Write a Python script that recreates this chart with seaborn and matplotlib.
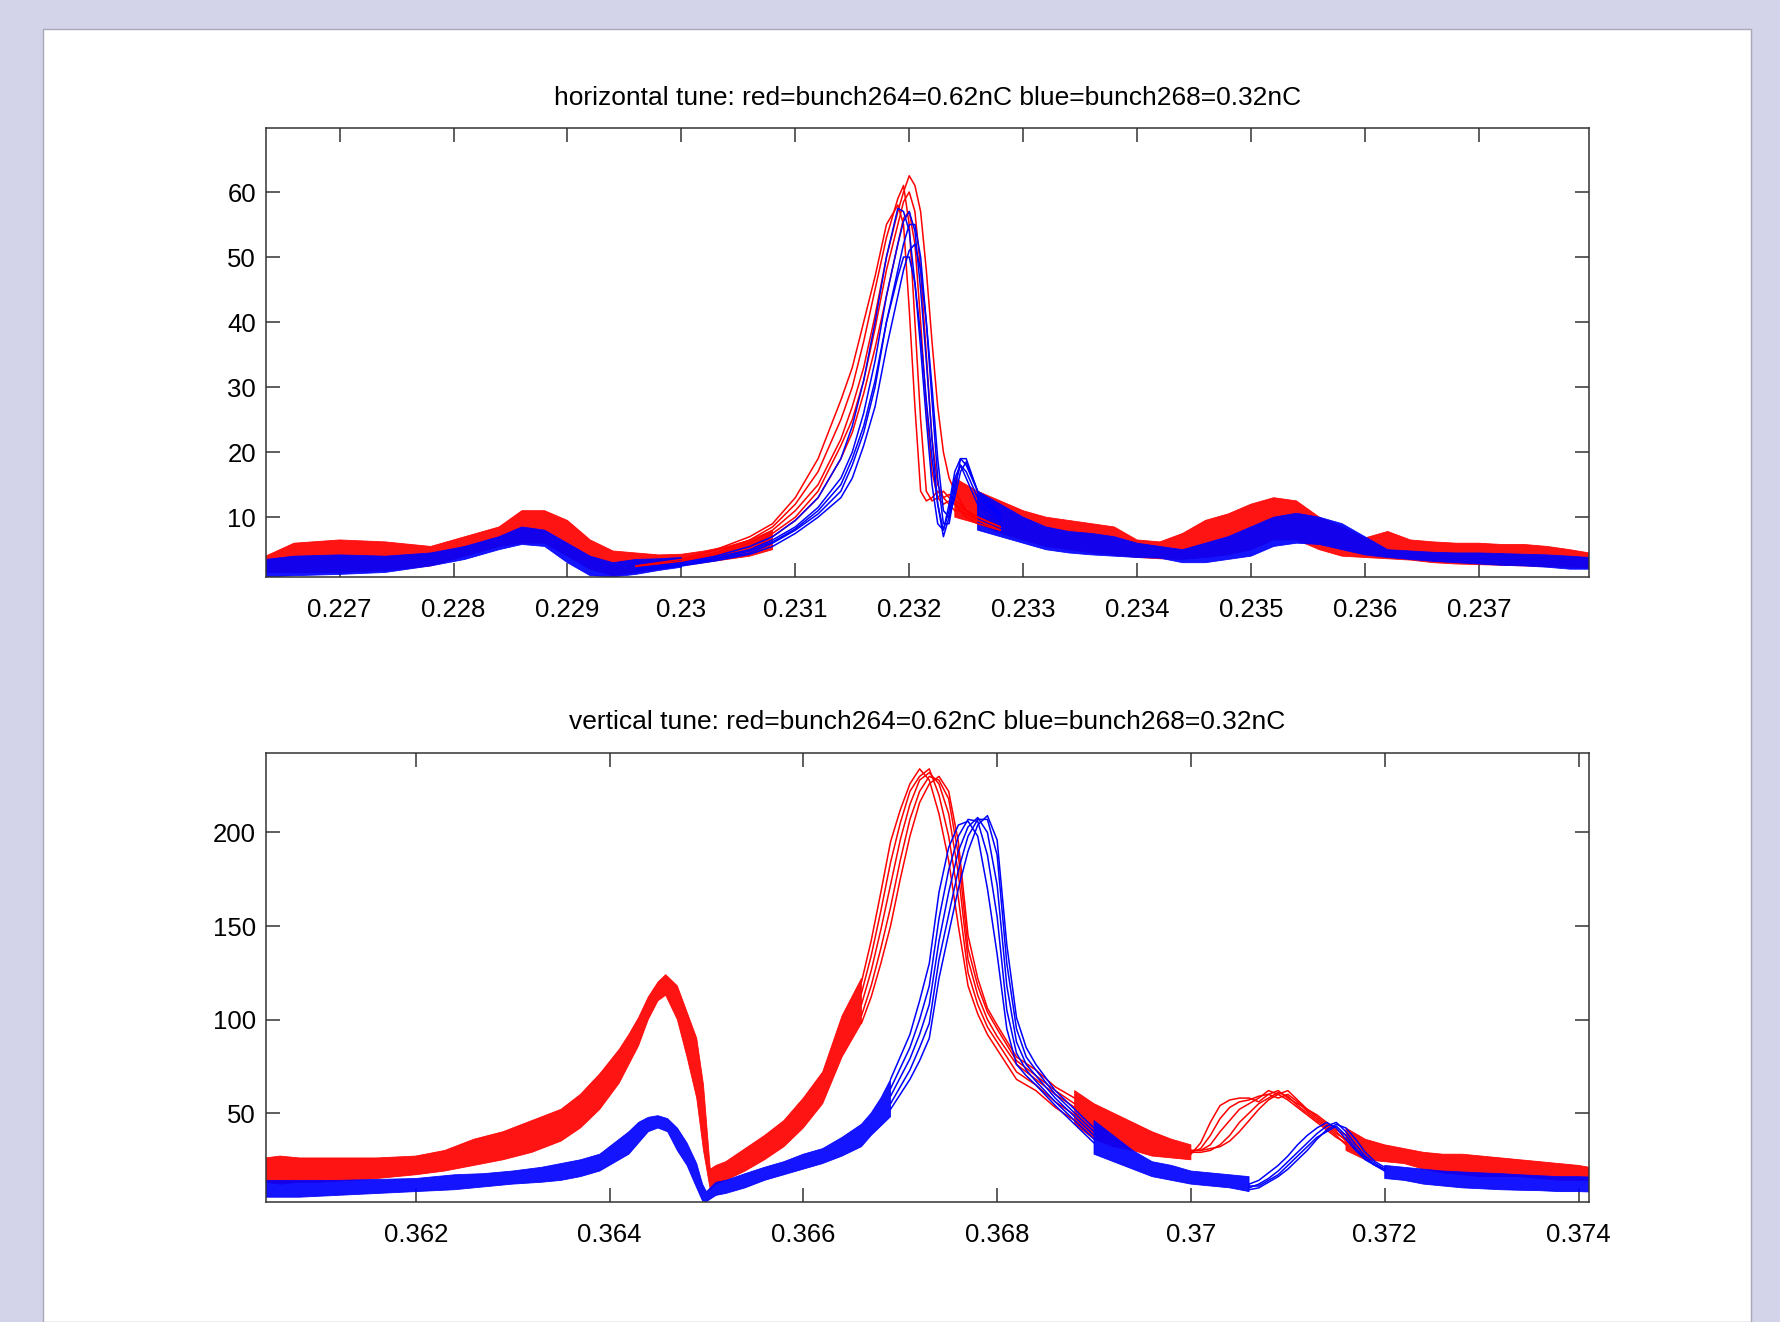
import numpy as np
import pandas as pd
import matplotlib
matplotlib.use("Agg")
import matplotlib.pyplot as plt
from matplotlib.patches import Rectangle
import seaborn as sns

# ---------------- DATA ----------------
TOP_TITLE = "horizontal tune: red=bunch264=0.62nC blue=bunch268=0.32nC"
BOT_TITLE = "vertical tune: red=bunch264=0.62nC blue=bunch268=0.32nC"

TOP_XTICKS = [0.227, 0.228, 0.229, 0.230, 0.231, 0.232, 0.233, 0.234, 0.235, 0.236, 0.237]
TOP_XTICKLABELS = ["0.227", "0.228", "0.229", "0.23", "0.231", "0.232", "0.233", "0.234", "0.235", "0.236", "0.237"]
TOP_YTICKS = [10, 20, 30, 40, 50, 60]
BOT_XTICKS = [0.362, 0.364, 0.366, 0.368, 0.370, 0.372, 0.374]
BOT_XTICKLABELS = ["0.362", "0.364", "0.366", "0.368", "0.37", "0.372", "0.374"]
BOT_YTICKS = [50, 100, 150, 200]
TOP_XLIM = (0.226352, 0.237967)
TOP_YLIM = (0.8, 69.8)
BOT_XLIM = (0.360453, 0.374108)
BOT_YLIM = (2.6, 242.5)

# top panel: noise band (None = no band there)
TOP_BAND_X = [0.22635, 0.2266, 0.2270, 0.2274, 0.2278, 0.2281, 0.2284, 0.2286, 0.2288, 0.2290,
              0.2292, 0.2294, 0.2296, 0.2298, 0.2300, 0.2302, 0.2304, 0.2306, 0.2308, 0.2316,
              0.2324, 0.2326, 0.2328, 0.2330, 0.2332, 0.2334, 0.2336, 0.2338, 0.2340, 0.2342,
              0.2344, 0.2346, 0.2348, 0.2350, 0.2352, 0.2354, 0.2356, 0.2358, 0.2360, 0.2362,
              0.2364, 0.2366, 0.2368, 0.2370, 0.2372, 0.2374, 0.2376, 0.2378, 0.23797]
TOP_RED_LO = [1.5, 1.5, 1.5, 1.8, 2.5, 4.0, 5.5, 6.0, 6.0, 4.0, 2.0, 1.0, 1.5, 2.0, 2.5, 3.0, 3.5, 4.0, 5.0, None,
              10, 9, 7.5, 6.5, 5.5, 5, 4.5, 4.2, 3.8, 3.6, 3.5, 3.8, 4.2, 5.0, 6.5, 6.5, 5.0, 4.0, 3.8, 3.6,
              3.4, 3.0, 2.8, 2.7, 2.6, 2.5, 2.4, 2.3, 2.2]
TOP_RED_HI = [4.0, 6.0, 6.5, 6.2, 5.5, 7.0, 8.5, 11.0, 11.0, 9.5, 6.5, 4.8, 4.5, 4.2, 4.3, 4.8, 5.5, 6.5, 8.0, None,
              16, 14, 12.5, 11, 10, 9.5, 9, 8.5, 6.5, 6.2, 7.5, 9.5, 10.5, 12.0, 13.0, 12.5, 10.0, 8.5, 6.8, 7.8,
              6.5, 6.2, 6.0, 6.0, 5.8, 5.8, 5.5, 5.0, 4.5]
TOP_BLUE_LO = [0.8, 1.0, 1.2, 1.5, 2.5, 3.5, 5.0, 5.8, 5.5, 3.0, 1.0, 0.8, 1.2, 1.8, 2.3, None, None, None, None, None,
               None, 8, 7, 6, 5, 4.5, 4.2, 4.0, 3.8, 3.7, 3.0, 3.0, 3.5, 4.0, 5.5, 6.0, 5.8, 5.0, 4.2, 3.8,
               3.5, 3.2, 3.0, 2.8, 2.6, 2.5, 2.3, 2.0, 2.0]
TOP_BLUE_HI = [3.5, 4.0, 4.2, 4.0, 4.5, 5.5, 7.0, 8.5, 8.0, 6.0, 4.0, 3.0, 3.5, 3.6, 3.8, None, None, None, None, None,
               None, 14, 12, 10, 8.5, 7.8, 7.5, 7.0, 6.0, 5.5, 5.0, 6.0, 7.0, 8.5, 10.0, 10.6, 10.0, 9.0, 7.0, 5.0,
               4.8, 4.6, 4.5, 4.5, 4.4, 4.3, 4.2, 4.0, 3.8]

# top panel: individual traces around the main peak
TOP_TRACE_X = [0.2296, 0.2300, 0.2303, 0.2306, 0.2308, 0.2310, 0.2312, 0.2314, 0.2315, 0.2316,
               0.2317, 0.2318, 0.2319, 0.23195, 0.2320, 0.23205, 0.2321, 0.23215, 0.2322, 0.23225,
               0.2323, 0.23235, 0.2324, 0.23245, 0.2325, 0.2326, 0.2328]
TOP_RED_TRACES = [
    [2.5, 3.5, 5, 7, 9, 13, 19, 28, 33, 40, 47, 55, 58, 55, 42, 27, 14, 12.5, 13, 14, 13, 12, 11, 11, 10, 9, 8],
    [2.5, 3.2, 4.5, 6.5, 8.5, 12, 17, 25, 30, 37, 45, 53, 59, 61, 55, 40, 25, 14, 12.5, 13, 14, 13, 12, 11, 10.5, 9.5, 8],
    [2.2, 3.0, 4.2, 6.0, 8.0, 11, 15, 22, 27, 33, 41, 50, 57, 60, 62.5, 61, 57, 48, 37, 27, 20, 16, 14, 12.5, 11, 10, 8.5],
    [2.4, 3.0, 4.0, 5.5, 7.5, 10, 14, 21, 25, 31, 39, 48, 55, 58.5, 60, 57, 48, 35, 22, 15, 13, 13.5, 12.5, 12, 11, 10, 8.5],
    [2.3, 2.8, 3.8, 5.0, 7.0, 9.5, 13, 19, 23, 29, 36, 44, 52, 56, 57, 52, 40, 27, 17, 13, 12, 12.5, 12, 11.5, 11, 9.5, 8],
]
TOP_BLUE_TRACES = [
    [2.2, 3, 4, 5.5, 7, 9.5, 13, 19, 24, 31, 40, 50, 57.5, 57, 54, 46, 36, 25, 15, 9, 8, 12, 17, 19, 18, 14, 10],
    [2.0, 2.8, 3.8, 5.0, 6.5, 8.5, 11.5, 16, 20, 26, 34, 44, 52, 55.5, 57, 54, 45, 34, 22, 12, 7, 10, 15, 18, 17, 13, 10],
    [2.0, 2.6, 3.5, 4.5, 6.0, 8.0, 10.5, 14, 18, 23, 30, 40, 48, 52, 55, 55, 50, 40, 28, 16, 9, 9, 14, 19, 19, 14, 10.5],
    [1.9, 2.5, 3.3, 4.3, 5.5, 7.5, 10, 13, 16, 21, 27, 36, 44, 48, 51, 52, 48, 40, 30, 19, 11, 10, 13, 17, 18.5, 14, 10],
    [2.1, 2.7, 3.6, 4.8, 6.2, 8.2, 11, 15, 19, 24, 31, 40, 47, 50, 50, 46, 38, 28, 19, 12, 8, 11, 16, 18, 16, 12, 9.5],
]

# bottom panel: red noise band
BOT_RED_BAND_X = [0.36045, 0.3606, 0.3608, 0.3610, 0.3613, 0.3616, 0.3620, 0.3623, 0.3626, 0.3629,
                  0.3632, 0.3635, 0.3637, 0.3639, 0.3641, 0.3642, 0.3643, 0.3644, 0.3645, 0.36458,
                  0.3647, 0.3648, 0.3649, 0.36497, 0.36504, 0.3651, 0.3652, 0.3654, 0.3656, 0.3658,
                  0.3660, 0.3662, 0.3664, 0.3666, 0.3677, 0.3688, 0.3690, 0.3692, 0.3694, 0.3696,
                  0.3698, 0.3700, 0.3708, 0.3716, 0.3718, 0.3720, 0.3722, 0.3724, 0.3726, 0.3728,
                  0.3730, 0.3732, 0.3734, 0.3736, 0.3738, 0.3740, 0.37411]
BOT_RED_LO = [13, 12, 13, 13, 14, 15, 17, 19, 22, 25, 29, 35, 42, 52, 66, 76, 86, 100, 110, 113,
              100, 80, 58, 30, 9, 12, 14, 19, 25, 32, 42, 55, 80, 98, None, 44, 36, 32, 30, 27,
              26, 25, None, 30, 25, 24, 23, 20, 18, 17, 16, 16, 16, 15, 14, 14, 14]
BOT_RED_HI = [26, 27, 26, 26, 26, 26, 27, 30, 36, 40, 46, 52, 60, 71, 84, 92, 101, 112, 120, 124,
              118, 104, 90, 65, 20, 22, 24, 31, 38, 46, 58, 72, 102, 122, None, 62, 55, 50, 45, 40,
              36, 33, None, 42, 36, 33, 31, 29, 28, 28, 27, 26, 25, 24, 23, 22, 21]

BOT_RED_PEAK_X = [0.3666, 0.3667, 0.3668, 0.3669, 0.3670, 0.3671, 0.3672, 0.3673, 0.3674, 0.3675,
                  0.3676, 0.3677, 0.3678, 0.3679, 0.3680, 0.3682, 0.3684, 0.3686, 0.3688]
BOT_RED_PEAK_TRACES = [
    [120, 142, 168, 195, 212, 226, 234, 228, 210, 185, 150, 118, 103, 92, 84, 68, 62, 53, 46],
    [114, 134, 158, 184, 205, 222, 230, 234, 220, 198, 165, 125, 108, 96, 88, 72, 65, 56, 49],
    [108, 126, 148, 172, 196, 215, 228, 232, 226, 210, 178, 132, 113, 100, 91, 76, 68, 60, 53],
    [102, 118, 138, 160, 185, 207, 222, 230, 228, 218, 188, 138, 118, 104, 95, 78, 70, 62, 55],
    [98, 112, 130, 150, 175, 198, 216, 226, 230, 222, 195, 145, 122, 106, 97, 80, 73, 64, 58],
]
BOT_RED_BUMP_X = [0.3700, 0.3701, 0.3702, 0.3703, 0.3704, 0.3705, 0.3706, 0.3707, 0.3708, 0.3709,
                  0.3710, 0.3711, 0.3712, 0.3713, 0.3714, 0.3715, 0.3716]
BOT_RED_BUMP_TRACES = [
    [28, 34, 45, 54, 57, 58, 58, 56, 60, 62, 58, 55, 52, 49, 45, 41, 38],
    [29, 31, 38, 47, 53, 56, 57, 59, 60, 58, 60, 56, 51, 47, 43, 39, 36],
    [30, 30, 33, 40, 46, 52, 55, 58, 62, 60, 57, 53, 49, 45, 41, 37, 34],
    [29, 29, 30, 33, 38, 45, 50, 55, 58, 61, 59, 54, 50, 46, 42, 38, 33],
    [30, 30, 31, 32, 35, 40, 46, 52, 57, 60, 62, 57, 52, 48, 44, 40, 35],
]

# bottom panel: blue noise band
BOT_BLUE_BAND_X = [0.36045, 0.3608, 0.3612, 0.3616, 0.3620, 0.3624, 0.3627, 0.3630, 0.3633, 0.3635,
                   0.3637, 0.3639, 0.3641, 0.3642, 0.3643, 0.3644, 0.3645, 0.3646, 0.3647, 0.3648,
                   0.3649, 0.36496, 0.3650, 0.3651, 0.3652, 0.3654, 0.3656, 0.3658, 0.3660, 0.3662,
                   0.3664, 0.3666, 0.3667, 0.3668, 0.3669, 0.3680, 0.3690, 0.3692, 0.3694, 0.3696,
                   0.3698, 0.3700, 0.3702, 0.3704, 0.3706, 0.3713, 0.3720, 0.3722, 0.3724, 0.3726,
                   0.3728, 0.3730, 0.3732, 0.3734, 0.3736, 0.3738, 0.3740, 0.37411]
BOT_BLUE_LO = [5, 5, 6, 7, 8, 9, 10.5, 12, 13, 14, 16, 19, 25, 28, 34, 40, 42, 40, 30, 22,
               10, 3, 2.6, 6, 7, 10, 14, 17, 20, 23, 27, 32, 38, 43, 48, None, 28, 24, 20, 16,
               14, 12, 11, 10, 8, None, 15, 14, 12, 11, 10, 9.5, 9, 8.7, 8.5, 8, 8, 7.8]
BOT_BLUE_HI = [14, 14, 14, 14.5, 15, 17, 17.6, 19, 21, 23, 25, 28, 36, 40, 45, 47.7, 48.6, 47, 42, 34,
               23, 12, 8, 13, 14, 17.6, 21, 24, 28, 31, 37, 44, 50, 58, 68, None, 46, 38, 30, 24,
               22, 19, 18, 17, 16, None, 22, 21, 20, 19, 18.5, 18, 17.6, 17, 16.5, 16, 16, 15.8]

BOT_BLUE_PEAK_X = [0.3669, 0.3670, 0.3671, 0.3672, 0.3673, 0.3674, 0.3675, 0.3676, 0.3677, 0.3678,
                   0.3679, 0.3680, 0.3681, 0.3682, 0.3683, 0.3684, 0.3686, 0.3688, 0.3690]
BOT_BLUE_PEAK_TRACES = [
    [68, 80, 92, 110, 130, 168, 192, 204, 206, 198, 170, 135, 95, 76, 70, 65, 54, 44, 34],
    [63, 74, 85, 100, 118, 154, 180, 198, 207, 206, 188, 155, 105, 82, 73, 67, 56, 46, 36],
    [59, 69, 79, 92, 108, 142, 168, 190, 203, 208, 200, 172, 118, 88, 76, 70, 58, 48, 38],
    [55, 64, 73, 85, 98, 132, 156, 180, 198, 207, 207, 188, 130, 95, 80, 73, 60, 50, 40],
    [52, 60, 68, 78, 90, 122, 146, 170, 190, 204, 209, 196, 140, 101, 85, 76, 62, 52, 42],
]
BOT_BLUE_BUMP_X = [0.3706, 0.3707, 0.3708, 0.3709, 0.3710, 0.3711, 0.3712, 0.3713, 0.3714, 0.3715,
                   0.3716, 0.3717, 0.3718, 0.3719, 0.3720]
BOT_BLUE_BUMP_TRACES = [
    [12, 14, 18, 22, 27, 33, 38, 42, 45, 42, 36, 30, 25, 22, 20],
    [10, 12, 15, 19, 24, 29, 34, 39, 43, 45, 40, 33, 27, 23, 20],
    [9, 10, 13, 16, 20, 25, 30, 36, 41, 44, 42, 36, 29, 24, 21],
    [11, 11, 14, 17, 22, 27, 32, 37, 40, 43, 38, 31, 26, 22, 19],
]

RED = "#FF0000"
BLUE = "#0000FF"

# ---------------- STYLE ----------------
sns.set_style("white")
plt.rcParams['font.family'] = ['Liberation Sans', 'DejaVu Sans']
plt.rcParams['text.color'] = 'black'
plt.rcParams['xtick.color'] = 'black'
plt.rcParams['ytick.color'] = 'black'

W, H = 1781, 1322
fig = plt.figure(figsize=(W / 100, H / 100), dpi=100)
fig.patch.set_facecolor("#D3D3E9")
fig.add_artist(Rectangle((43 / W, 0), (1751 - 43) / W, 1 - 29 / H, transform=fig.transFigure,
                         facecolor="white", edgecolor="#A8A8BA", lw=1.0, zorder=0))


def traces_df(x, traces):
    rows = []
    for i, ys in enumerate(traces):
        for xv, yv in zip(x, ys):
            rows.append((i, xv, yv))
    return pd.DataFrame(rows, columns=["trace", "tune", "amp"])


def draw_traces(ax, x, traces, color):
    df = traces_df(x, traces)
    sns.lineplot(data=df, x="tune", y="amp", units="trace", estimator=None, sort=False,
                 color=color, lw=1.1, ax=ax, legend=False)


def draw_band(ax, x, lo, hi, color):
    ax.fill_between(np.array(x, dtype=float), np.array(lo, dtype=float), np.array(hi, dtype=float),
                    color=color, lw=0.6, alpha=0.92)


def style_axes(ax, xticks, xlabels, yticks, xlim, ylim, title):
    ax.set_xlim(*xlim)
    ax.set_ylim(*ylim)
    ax.set_xticks(xticks)
    ax.set_xticklabels(xlabels)
    ax.set_yticks(yticks)
    ax.set_yticklabels([str(v) for v in yticks])
    ax.set_xlabel("")
    ax.set_ylabel("")
    ax.tick_params(axis="x", direction="in", length=10, width=1.1, color="#333333",
                   labelcolor="black", top=True, bottom=True, pad=15, labelsize=18.5)
    ax.tick_params(axis="y", direction="in", length=10, width=1.1, color="#333333",
                   labelcolor="black", left=True, right=True, pad=7, labelsize=18.5)
    for sp in ax.spines.values():
        sp.set_visible(True)
        sp.set_color("#333333")
        sp.set_linewidth(1.1)
    ax.set_title(title, fontsize=19, pad=17, color="black")
    ax.set_facecolor("white")


ax1 = fig.add_axes([265.8 / W, 1 - 577 / H, (1589 - 265.8) / W, (577 - 128.3) / H])
ax2 = fig.add_axes([265.8 / W, 1 - 1201.7 / H, (1589 - 265.8) / W, (1201.7 - 753) / H])

# top panel
draw_band(ax1, TOP_BAND_X, TOP_RED_LO, TOP_RED_HI, RED)
draw_traces(ax1, TOP_TRACE_X, TOP_RED_TRACES, RED)
draw_band(ax1, TOP_BAND_X, TOP_BLUE_LO, TOP_BLUE_HI, BLUE)
draw_traces(ax1, TOP_TRACE_X, TOP_BLUE_TRACES, BLUE)
style_axes(ax1, TOP_XTICKS, TOP_XTICKLABELS, TOP_YTICKS, TOP_XLIM, TOP_YLIM, TOP_TITLE)

# bottom panel
draw_band(ax2, BOT_RED_BAND_X, BOT_RED_LO, BOT_RED_HI, RED)
draw_traces(ax2, BOT_RED_PEAK_X, BOT_RED_PEAK_TRACES, RED)
draw_traces(ax2, BOT_RED_BUMP_X, BOT_RED_BUMP_TRACES, RED)
draw_band(ax2, BOT_BLUE_BAND_X, BOT_BLUE_LO, BOT_BLUE_HI, BLUE)
draw_traces(ax2, BOT_BLUE_PEAK_X, BOT_BLUE_PEAK_TRACES, BLUE)
draw_traces(ax2, BOT_BLUE_BUMP_X, BOT_BLUE_BUMP_TRACES, BLUE)
style_axes(ax2, BOT_XTICKS, BOT_XTICKLABELS, BOT_YTICKS, BOT_XLIM, BOT_YLIM, BOT_TITLE)

fig.savefig("out.png", dpi=100, facecolor=fig.get_facecolor())
